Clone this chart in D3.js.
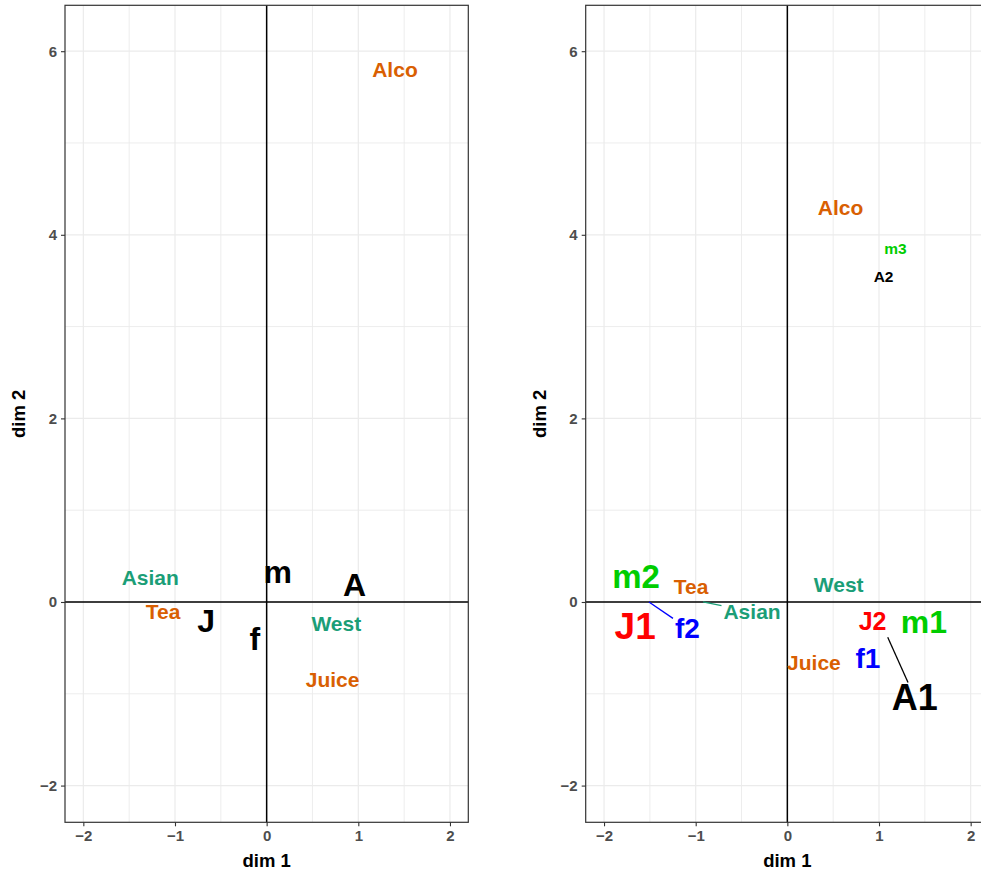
<!DOCTYPE html>
<html lang="en">
<head>
<meta charset="UTF-8">
<title>dim 1 / dim 2 maps</title>
<style>
  body { margin: 0; background: #fff; }
  svg { display: block; font-family: "Liberation Sans", Arial, Helvetica, sans-serif; }
  .axis-title { font-size: 18.5px; font-weight: bold; fill: #000; }
  .lbl { font-weight: bold; }
</style>
</head>
<body>
<div id="chart"></div>
<script src="https://d3js.org/d3.v7.min.js"></script>
<script>
// ---- data ----
const xTicks = [-2, -1, 0, 1, 2];
const xMinor = [-1.5, -0.5, 0.5, 1.5];
const yTicks = [-2, 0, 2, 4, 6];
const yMinor = [-1, 1, 3, 5];

// left map
const leftLabels = ["Alco", "Asian", "Tea", "West", "Juice", "J", "f", "m", "A"];
const leftX = [1.40, -1.27, -1.13, 0.76, 0.72, -0.66, -0.13, 0.12, 0.96];
const leftY = [5.80, 0.26, -0.11, -0.24, -0.85, -0.21, -0.40, 0.30, 0.19];
const leftGroup = ["food", "region", "food", "region", "food", "var", "var", "var", "var"];
const leftSize = [21, 21, 21, 21, 21, 32, 32, 32, 32];

// right map (point position and repelled label position)
const rightLabels = ["Alco", "m3", "A2", "m2", "Tea", "Asian", "J1", "f2", "West", "J2", "m1", "Juice", "f1", "A1"];
const rightX = [0.58, 1.18, 1.05, -1.65, -1.05, -0.92, -1.66, -1.51, 0.56, 0.93, 1.49, 0.29, 0.88, 1.095];
const rightY = [4.30, 3.85, 3.54, 0.275, 0.165, 0.00, -0.267, 0.00, 0.19, -0.21, -0.22, -0.66, -0.61, -0.385];
const rightLabelX = [0.58, 1.18, 1.05, -1.65, -1.05, -0.385, -1.66, -1.09, 0.56, 0.93, 1.49, 0.29, 0.88, 1.39];
const rightLabelY = [4.30, 3.85, 3.54, 0.275, 0.165, -0.107, -0.267, -0.286, 0.19, -0.21, -0.22, -0.66, -0.61, -1.04];
const rightGroup = ["food", "m", "A", "m", "food", "region", "J", "f", "region", "J", "m", "food", "f", "A"];
const rightSize = [21, 15.5, 15.5, 33, 21, 21, 37, 28, 21, 25, 32, 21, 28, 36];

const colours = {
  food: "#D95F02", region: "#1B9E77", var: "#000000",
  m: "#00CD00", J: "#FF0000", f: "#0000FF", A: "#000000"
};

const width = 981, height = 875;
const svg = d3.select("#chart").append("svg")
    .attr("width", width)
    .attr("height", height);

function drawPanel(left, labels, px, py, lx, ly, groups, sizes) {
  const panelW = 403.3, top = 5.3, bottom = 822.3;
  const x = d3.scaleLinear().domain([-2.2, 2.2]).range([left, left + panelW]);
  const y = d3.scaleLinear().domain([-2.4, 6.5]).range([bottom, top]);

  const g = svg.append("g");

  // grid
  g.append("g").selectAll("line").data(xMinor.concat(xTicks)).join("line")
    .attr("x1", d => x(d)).attr("x2", d => x(d))
    .attr("y1", top).attr("y2", bottom)
    .attr("stroke", "#ebebeb").attr("stroke-width", d => xTicks.includes(d) ? 1.2 : 0.9);
  g.append("g").selectAll("line").data(yMinor.concat(yTicks)).join("line")
    .attr("y1", d => y(d)).attr("y2", d => y(d))
    .attr("x1", left).attr("x2", left + panelW)
    .attr("stroke", "#ebebeb").attr("stroke-width", d => yTicks.includes(d) ? 1.2 : 0.9);

  // zero lines
  g.append("line").attr("x1", x(0)).attr("x2", x(0)).attr("y1", top).attr("y2", bottom)
    .attr("stroke", "#000").attr("stroke-width", 1.5);
  g.append("line").attr("x1", left).attr("x2", left + panelW).attr("y1", y(0)).attr("y2", y(0))
    .attr("stroke", "#000").attr("stroke-width", 1.5);

  // border
  g.append("rect").attr("x", left).attr("y", top)
    .attr("width", panelW).attr("height", bottom - top)
    .attr("fill", "none").attr("stroke", "#333333").attr("stroke-width", 1.2);

  // axes
  const fmt = d3.format("d");
  const xAxis = g.append("g").attr("transform", `translate(0,${bottom})`)
    .call(d3.axisBottom(x).tickValues(xTicks).tickFormat(fmt).tickSize(4).tickPadding(3));
  const yAxis = g.append("g").attr("transform", `translate(${left},0)`)
    .call(d3.axisLeft(y).tickValues(yTicks).tickFormat(fmt).tickSize(4).tickPadding(4));
  [xAxis, yAxis].forEach(a => {
    a.attr("font-family", null).attr("font-size", null);
    a.select(".domain").remove();
    a.selectAll(".tick line").attr("stroke", "#333333").attr("stroke-width", 1.1);
    a.selectAll(".tick text")
      .style("font-family", "'Liberation Sans', Arial, sans-serif")
      .style("font-size", "15px")
      .style("font-weight", "bold")
      .style("fill", "#4d4d4d");
  });
  xAxis.selectAll(".tick text").attr("dy", "0.8em");

  g.append("text").attr("class", "axis-title")
    .attr("x", left + panelW / 2).attr("y", 867)
    .attr("text-anchor", "middle").text("dim 1");
  g.append("text").attr("class", "axis-title")
    .attr("transform", `translate(${left - 40},${(top + bottom) / 2}) rotate(-90)`)
    .attr("text-anchor", "middle").text("dim 2");

  // labels
  const data = labels.map((t, i) => ({
    t, px: px[i], py: py[i], lx: lx[i], ly: ly[i],
    col: colours[groups[i]], size: sizes[i]
  }));

  const segs = g.append("g");
  const texts = g.append("g").selectAll("text").data(data).join("text")
    .attr("class", "lbl")
    .attr("x", d => x(d.lx)).attr("y", d => y(d.ly))
    .attr("dy", d => /[A-Z0-9bdfhklt]/.test(d.t) ? "0.35em" : "0.26em")
    .attr("text-anchor", "middle")
    .attr("font-size", d => d.size)
    .attr("fill", d => d.col)
    .text(d => d.t);

  // leader segments from point to label box edge
  texts.each(function(d) {
    const sx = x(d.px), sy = y(d.py), cx = x(d.lx), cy = y(d.ly);
    const hw = this.getComputedTextLength() / 2 + 2;
    const hh = 0.36 * d.size + 2;
    const dx = cx - sx, dyv = cy - sy;
    if (Math.abs(dx) <= hw && Math.abs(dyv) <= hh) return;
    const tx = dx !== 0 ? (Math.abs(dx) - hw) / Math.abs(dx) : -Infinity;
    const ty = dyv !== 0 ? (Math.abs(dyv) - hh) / Math.abs(dyv) : -Infinity;
    const t = Math.max(tx, ty);
    segs.append("line")
      .attr("x1", sx).attr("y1", sy)
      .attr("x2", sx + dx * t).attr("y2", sy + dyv * t)
      .attr("stroke", d.col).attr("stroke-width", 1.3);
  });
}

drawPanel(65, leftLabels, leftX, leftY, leftX, leftY, leftGroup, leftSize);
drawPanel(585.7, rightLabels, rightX, rightY, rightLabelX, rightLabelY, rightGroup, rightSize);
</script>
</body>
</html>
